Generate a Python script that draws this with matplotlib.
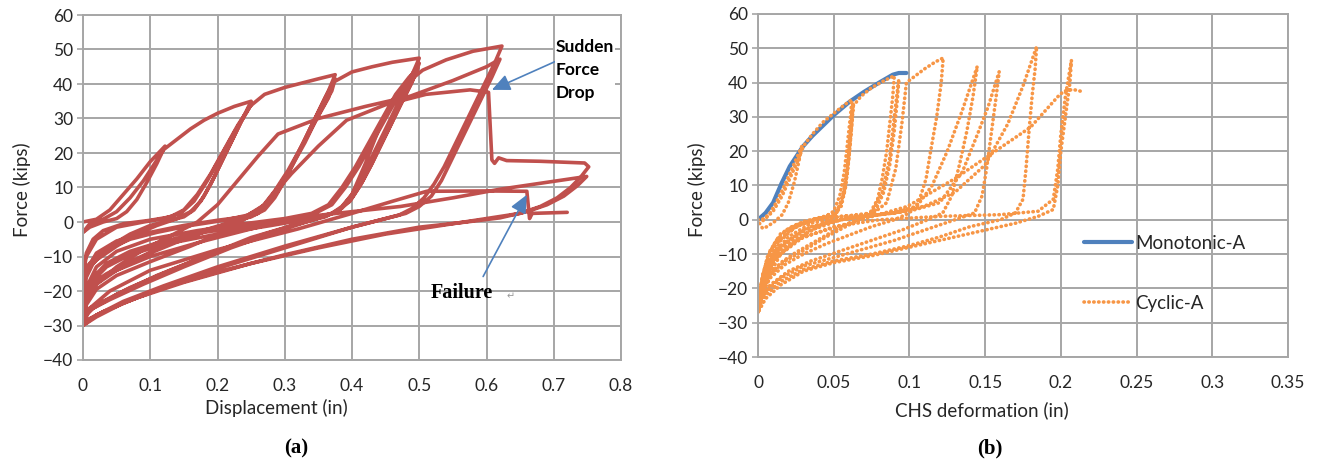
import numpy as np
import matplotlib.pyplot as plt

W, H = 1319, 465

# panel (a): actuator displacement (in) vs force (kips)
curve_a = [
    (0, 0), (0.02, 0.8), (0.04, 3.5), (0.06, 8), (0.08, 12.5), (0.1, 17.5), (0.122, 22),
    (0.11, 17), (0.095, 11.5), (0.08, 6.5), (0.065, 3), (0.05, 1), (0.03, 0), (0.01, -1.5), (0, -3),
    (0.01, -0.5), (0.03, 0.8), (0.05, 3), (0.07, 7), (0.09, 12), (0.105, 16.5), (0.12, 21),
    (0.14, 24), (0.16, 27), (0.18, 29.5), (0.2, 31.5), (0.225, 33.5), (0.25, 35),
    (0.24, 31), (0.225, 25), (0.21, 19), (0.195, 13), (0.18, 7.5), (0.165, 3.5), (0.15, 1.5),
    (0.13, 0.5), (0.1, -1), (0.07, -3.5), (0.04, -7), (0.015, -11), (0, -14),
    (0.005, -9), (0.015, -5), (0.03, -2.5), (0.06, -0.5), (0.1, 0.5), (0.13, 1.5), (0.15, 3.5),
    (0.17, 8), (0.19, 14), (0.21, 21), (0.23, 28), (0.25, 34),
    (0.235, 29), (0.22, 23), (0.205, 17), (0.19, 11), (0.175, 6), (0.16, 3), (0.14, 1),
    (0.11, -1), (0.08, -3.5), (0.05, -7), (0.02, -11), (0, -15),
    (0.005, -10), (0.02, -5), (0.05, -1.5), (0.09, 0), (0.12, 1), (0.145, 2.5), (0.165, 6),
    (0.185, 12), (0.205, 19), (0.225, 26), (0.248, 33.5),
    (0.27, 37), (0.3, 39), (0.33, 40.5), (0.35, 41.5), (0.375, 42.7),
    (0.365, 38), (0.35, 32), (0.335, 26), (0.32, 20), (0.305, 14), (0.29, 9), (0.275, 5),
    (0.26, 2.5), (0.24, 1), (0.2, -1.5), (0.15, -5), (0.1, -9), (0.06, -13), (0.03, -16),
    (0.01, -19), (0, -22),
    (0.005, -16), (0.015, -12), (0.035, -8), (0.07, -5), (0.11, -3), (0.16, -1), (0.21, 0.5),
    (0.245, 2), (0.27, 5), (0.29, 10), (0.31, 16), (0.33, 23), (0.35, 31), (0.37, 38), (0.375, 41.5),
    (0.36, 36), (0.345, 30), (0.33, 24), (0.315, 18), (0.3, 12), (0.285, 7), (0.27, 3.5),
    (0.25, 1.5), (0.22, 0), (0.17, -3), (0.12, -7), (0.07, -11.5), (0.035, -15), (0.012, -18), (0, -20),
    (0.005, -14), (0.02, -9), (0.05, -5.5), (0.1, -3), (0.15, -1), (0.2, 0.5), (0.24, 1.5),
    (0.265, 4), (0.285, 9), (0.305, 15), (0.325, 22), (0.345, 29), (0.365, 36), (0.372, 40.5),
    (0.4, 43.5), (0.43, 45), (0.46, 46.3), (0.5, 47.5),
    (0.49, 43), (0.475, 37), (0.46, 31), (0.445, 25), (0.43, 19), (0.415, 13), (0.4, 8),
    (0.385, 4.5), (0.37, 2.5), (0.34, 0.5), (0.3, -2), (0.22, -7.5), (0.15, -13), (0.09, -18),
    (0.04, -22.5), (0.015, -25), (0, -27),
    (0.005, -21), (0.015, -16), (0.035, -12), (0.07, -8.5), (0.12, -5.5), (0.18, -3), (0.25, -1),
    (0.3, 0.5), (0.34, 2), (0.37, 5), (0.39, 10), (0.41, 16), (0.43, 23), (0.45, 30), (0.47, 37),
    (0.49, 43), (0.5, 46),
    (0.49, 41), (0.475, 35), (0.46, 29), (0.445, 23), (0.43, 17), (0.415, 11.5), (0.4, 7),
    (0.385, 4), (0.365, 2), (0.33, 0), (0.27, -3.5), (0.2, -8.5), (0.13, -14), (0.07, -19),
    (0.03, -23), (0, -26),
    (0.005, -19), (0.02, -13), (0.05, -8.5), (0.1, -5), (0.17, -2.5), (0.24, -0.5), (0.3, 1),
    (0.34, 2.5), (0.365, 5), (0.385, 10), (0.405, 16), (0.425, 23), (0.445, 30), (0.465, 37),
    (0.485, 42), (0.498, 44.5),
    (0.488, 40), (0.472, 34), (0.457, 28), (0.442, 22), (0.427, 16), (0.412, 10.5), (0.397, 6),
    (0.38, 3.5), (0.36, 1.5), (0.32, -0.5), (0.25, -4.5), (0.18, -10), (0.11, -15.5),
    (0.05, -21), (0.015, -25), (0, -28),
    (0.005, -22), (0.015, -17), (0.035, -13), (0.07, -9.5), (0.12, -6.5), (0.2, -3.5), (0.28, -1),
    (0.34, 1), (0.38, 3), (0.4, 8), (0.42, 17), (0.44, 27), (0.46, 35), (0.48, 40), (0.505, 44),
    (0.54, 47), (0.58, 49.5), (0.623, 51),
    (0.612, 46), (0.597, 40), (0.582, 34), (0.567, 28), (0.552, 22), (0.537, 16), (0.522, 11),
    (0.507, 7), (0.49, 4), (0.47, 2), (0.44, 0.5), (0.4, -1.5), (0.3, -7), (0.2, -13),
    (0.12, -18.5), (0.06, -23), (0.02, -27), (0, -29.5),
    (0.005, -23), (0.02, -18), (0.05, -13), (0.09, -8), (0.13, -4), (0.17, 0), (0.2, 5),
    (0.23, 12), (0.26, 19), (0.29, 25.5), (0.35, 30), (0.42, 33.5), (0.487, 36.5), (0.55, 41),
    (0.6, 45), (0.62, 47.2),
    (0.608, 42), (0.593, 36), (0.578, 30), (0.563, 24), (0.548, 18), (0.533, 12), (0.518, 7.5),
    (0.5, 4.5), (0.48, 2.5), (0.45, 1), (0.4, -1.5), (0.3, -7.5), (0.2, -13.5), (0.12, -19),
    (0.06, -23.5), (0.02, -27), (0, -30),
    (0.005, -24), (0.02, -19.5), (0.05, -15.5), (0.1, -11.5), (0.16, -7), (0.22, -2), (0.27, 5),
    (0.31, 14), (0.35, 22), (0.392, 29.5), (0.45, 34), (0.51, 37), (0.5755, 38.3), (0.603, 37.6),
    (0.608, 18), (0.612, 17), (0.618, 18.6), (0.63, 17.8), (0.68, 17.6), (0.746, 17.1), (0.752, 16),
    (0.74, 13), (0.725, 10), (0.705, 7), (0.68, 4.5), (0.65, 2.5), (0.6, 1), (0.55, -0.5),
    (0.45, -3.5), (0.35, -7.5), (0.25, -12), (0.15, -17.5), (0.08, -22), (0.03, -26), (0, -29),
    (0.005, -23), (0.02, -18), (0.05, -14), (0.1, -10), (0.18, -5.5), (0.26, -1.5), (0.33, 1.5),
    (0.4, 3), (0.472, 4.5), (0.55, 7), (0.62, 9.5), (0.69, 11.5), (0.749, 13.2),
    (0.735, 10.5), (0.715, 7.5), (0.69, 5), (0.66, 3), (0.62, 1.2), (0.57, 0), (0.5, -1.5),
    (0.4, -5), (0.3, -9.5), (0.2, -14.5), (0.12, -19), (0.06, -23.5), (0.02, -27.5), (0, -30),
    (0.01, -25), (0.04, -20), (0.1, -14), (0.2, -8), (0.32, -2), (0.4, 2.5), (0.46, 6),
    (0.511, 8.9), (0.6, 9), (0.66, 8.9), (0.664, 1), (0.668, 2.5), (0.72, 2.8),
]

# panel (b): CHS deformation (in) vs force (kips)
monotonic_b = [
    (0, 0), (0.005, 2), (0.01, 5), (0.0156, 10.7), (0.021, 15.6), (0.0297, 21.4), (0.036, 24.5),
    (0.043, 27.5), (0.05, 30.5), (0.0607, 34.5), (0.07, 37.3), (0.08, 40), (0.089, 42.3),
    (0.093, 42.8), (0.098, 42.8),
]

cyclic_b = [
    (0, 0), (0.004, 0.3), (0.008, 2), (0.012, 5), (0.017, 9.5), (0.022, 14.5), (0.026, 18.5), (0.029, 21.5),
    (0.027, 17), (0.024, 11), (0.02, 5), (0.016, 1.5), (0.011, -0.5), (0.006, -2), (0.003, -2.5), (0.001, -1),
    (0.004, 0), (0.01, 2.5), (0.016, 7), (0.022, 13), (0.027, 18), (0.03, 21.5),
    (0.036, 25), (0.043, 28.5), (0.05, 31), (0.057, 33.5), (0.062, 35),
    (0.061, 30), (0.059, 22), (0.057, 14), (0.054, 7), (0.05, 2.5), (0.044, 0.8), (0.036, 0),
    (0.028, -1.5), (0.02, -3.5), (0.012, -7), (0.006, -12), (0.003, -17), (0.001, -22), (0, -25),
    (0.002, -19), (0.006, -11), (0.012, -6), (0.02, -2.5), (0.03, -0.5), (0.042, 0.8), (0.052, 2),
    (0.057, 8), (0.06, 18), (0.062, 28), (0.063, 34),
    (0.062, 28), (0.06, 18), (0.058, 10), (0.055, 4), (0.05, 1), (0.04, -2), (0.03, -4.5),
    (0.02, -8), (0.01, -12), (0.004, -17), (0, -24),
    (0.003, -16), (0.008, -9), (0.015, -4), (0.025, -1.5), (0.04, 0.5), (0.05, 1), (0.055, 5),
    (0.059, 14), (0.061, 25), (0.0625, 33),
    (0.068, 36), (0.075, 38.5), (0.083, 40.5), (0.09, 42),
    (0.089, 36), (0.087, 28), (0.085, 20), (0.082, 12), (0.079, 6), (0.074, 2), (0.066, 0),
    (0.055, -2), (0.045, -4.5), (0.035, -7), (0.025, -9.5), (0.015, -12.5), (0.008, -16),
    (0.003, -21), (0, -26),
    (0.003, -19), (0.008, -12), (0.015, -6), (0.025, -2), (0.04, 0.3), (0.06, 1.2), (0.075, 2),
    (0.082, 8), (0.087, 18), (0.09, 30), (0.093, 41),
    (0.092, 35), (0.09, 26), (0.087, 16), (0.083, 8), (0.078, 3), (0.07, 0.5), (0.06, -1.5),
    (0.045, -5), (0.03, -9), (0.018, -12), (0.008, -16), (0.002, -22), (0, -26),
    (0.004, -17), (0.01, -10), (0.02, -5), (0.035, -1), (0.055, 1), (0.075, 1.5), (0.085, 5),
    (0.091, 15), (0.095, 28), (0.098, 40),
    (0.104, 42), (0.11, 44), (0.117, 46), (0.1223, 47.2),
    (0.121, 40), (0.118, 30), (0.114, 20), (0.111, 12), (0.106, 5), (0.1, 2), (0.09, 0),
    (0.075, -2), (0.06, -4.5), (0.045, -7), (0.03, -10), (0.018, -13), (0.008, -17),
    (0.002, -22), (0, -27),
    (0.003, -20), (0.008, -13), (0.015, -8), (0.03, -3), (0.05, 0), (0.07, 1), (0.09, 2),
    (0.105, 4), (0.115, 10), (0.125, 20), (0.135, 32), (0.1448, 44.7),
    (0.142, 36), (0.138, 26), (0.133, 16), (0.128, 7), (0.122, 2), (0.112, 0), (0.095, -3),
    (0.075, -6), (0.055, -9), (0.035, -12), (0.02, -15), (0.008, -19), (0.002, -23), (0, -27),
    (0.004, -19), (0.01, -12), (0.02, -7), (0.035, -3), (0.055, 0), (0.08, 1.5), (0.1, 2.5),
    (0.12, 5), (0.135, 14), (0.145, 25), (0.152, 33), (0.1593, 43.2),
    (0.157, 35), (0.154, 25), (0.151, 15), (0.148, 7), (0.143, 2), (0.13, 0), (0.11, -3),
    (0.09, -6), (0.07, -8.5), (0.05, -11), (0.03, -13.5), (0.015, -17), (0.005, -21), (0, -26),
    (0.004, -18), (0.01, -11), (0.02, -6), (0.035, -2), (0.06, 0.5), (0.09, 2), (0.11, 4),
    (0.13, 8), (0.15, 16), (0.165, 28), (0.175, 39), (0.184, 50.5),
    (0.183, 44), (0.181, 36), (0.179, 26), (0.177, 15), (0.175, 6), (0.17, 2), (0.16, 0),
    (0.14, -2), (0.12, -5), (0.1, -7.5), (0.075, -10), (0.05, -12), (0.03, -14.5),
    (0.015, -18), (0.005, -22), (0, -27),
    (0.004, -19), (0.012, -11), (0.025, -6), (0.05, -2), (0.08, 0), (0.12, 1), (0.16, 1.5),
    (0.185, 2.5), (0.195, 6), (0.198, 15), (0.2, 25), (0.203, 36), (0.207, 46.6),
    (0.206, 40), (0.203, 30), (0.2, 20), (0.198, 10), (0.195, 3), (0.185, 1), (0.17, -1),
    (0.15, -3), (0.12, -6), (0.1, -8), (0.075, -10.5), (0.05, -12.5), (0.03, -15),
    (0.015, -19), (0.005, -23), (0, -27),
    (0.005, -18), (0.015, -10), (0.03, -5), (0.06, -1), (0.0986, 3.9), (0.13, 12), (0.16, 21),
    (0.18, 27), (0.198, 35.9), (0.202, 37.5), (0.208, 38), (0.213, 37.5), (0.2147, 37.4),
]

xa, fa = np.array(curve_a).T
xm, fm = np.array(monotonic_b).T
xc, fc = np.array(cyclic_b).T

a_ticks = [0, 0.1, 0.2, 0.3, 0.4, 0.5, 0.6, 0.7, 0.8]
a_ticklabels = ['0', '0.1', '0.2', '0.3', '0.4', '0.5', '0.6', '0.7', '0.8']
b_ticks = [0, 0.05, 0.1, 0.15, 0.2, 0.25, 0.3, 0.35]
b_ticklabels = ['0', '0.05', '0.1', '0.15', '0.2', '0.25', '0.3', '0.35']
f_ticks = list(range(-40, 61, 10))

RED = '#C0504D'
BLUE = '#4F81BD'
ORANGE = '#F79646'
GRID = '#A6A6A6'
TXT = '#262626'

plt.rcParams['font.family'] = ['Lato', 'DejaVu Sans']

fig = plt.figure(figsize=(W / 100, H / 100), dpi=100)


def fx(px):
    return px / W


def fy(py):
    return 1 - py / H


def style(ax, xmax, xt, xtl):
    ax.set_xlim(0, xmax)
    ax.set_ylim(-40, 60)
    ax.set_xticks(xt)
    ax.set_xticklabels(xtl)
    ax.set_yticks(f_ticks)
    ax.grid(True, color=GRID, lw=1.4)
    ax.set_axisbelow(True)
    for s in ax.spines.values():
        s.set_color(GRID)
        s.set_linewidth(1.4)
    ax.tick_params(axis='x', length=0, pad=13, labelsize=12.5, colors=TXT)
    ax.tick_params(axis='y', length=4, width=1.2, color=GRID, pad=3, labelsize=12.5, labelcolor=TXT)


ax1 = fig.add_axes([fx(83), fy(360), fx(538), (360 - 15) / H])
style(ax1, 0.8, a_ticks, a_ticklabels)
ax1.plot(xa, fa, color=RED, lw=2.6, solid_joinstyle='round', solid_capstyle='round')

arrow = dict(arrowstyle='-|>,head_length=0.55,head_width=0.25', color=BLUE, lw=1.2,
             mutation_scale=20, shrinkA=0, shrinkB=0)
ax1.annotate('', xy=(0.608, 38.3), xytext=(0.702, 46.5), arrowprops=arrow)
ax1.annotate('', xy=(0.66, 7.9), xytext=(0.595, -15.8), arrowprops=arrow)
ax1.text(0.703, 53.0, 'Sudden\nForce\nDrop', fontsize=12.5, fontweight='bold', color='black',
         va='top', ha='left', linespacing=1.55,
         bbox=dict(facecolor='white', edgecolor='none', pad=0.5))
ax1.text(0.517, -20.6, 'Failure', fontsize=14.5, fontweight='bold', family='Liberation Serif',
         color='black', va='center', ha='left')
ax1.text(0.63, -21.5, '\u21b5', fontsize=7, color='#999999', va='center', ha='left',
         family='DejaVu Sans')

ax2 = fig.add_axes([fx(758), fy(357), fx(530), (357 - 14) / H])
style(ax2, 0.35, b_ticks, b_ticklabels)
ax2.plot(xm, fm, color=BLUE, lw=3.0, solid_capstyle='round', label='Monotonic-A')
ax2.plot(xc, fc, color=ORANGE, lw=2.6, ls=(0, (0.1, 1.25)), dash_capstyle='round',
         label='Cyclic-A')
ax2.legend(loc='upper left', bbox_to_anchor=(0.6, 0.378), frameon=False, fontsize=13.5,
           handlelength=2.6, handletextpad=0.15, labelspacing=2.3, borderaxespad=0,
           labelcolor=TXT)

fig.text(fx(22), fy(190), 'Force (kips)', rotation=90, fontsize=13.5, color=TXT,
         ha='center', va='center')
fig.text(fx(697), fy(190), 'Force (kips)', rotation=90, fontsize=13.5, color=TXT,
         ha='center', va='center')
fig.text(fx(276), fy(408), 'Displacement (in)', fontsize=13.5, color=TXT, ha='center', va='center')
fig.text(fx(982), fy(410), 'CHS deformation (in)', fontsize=13.5, color=TXT, ha='center', va='center')
fig.text(fx(296), fy(448), '(a)', fontsize=15, fontweight='bold', family='Liberation Serif',
         ha='center', va='center')
fig.text(fx(990), fy(448), '(b)', fontsize=15, fontweight='bold', family='Liberation Serif',
         ha='center', va='center')

fig.savefig('out.png', dpi=100, facecolor='white')
